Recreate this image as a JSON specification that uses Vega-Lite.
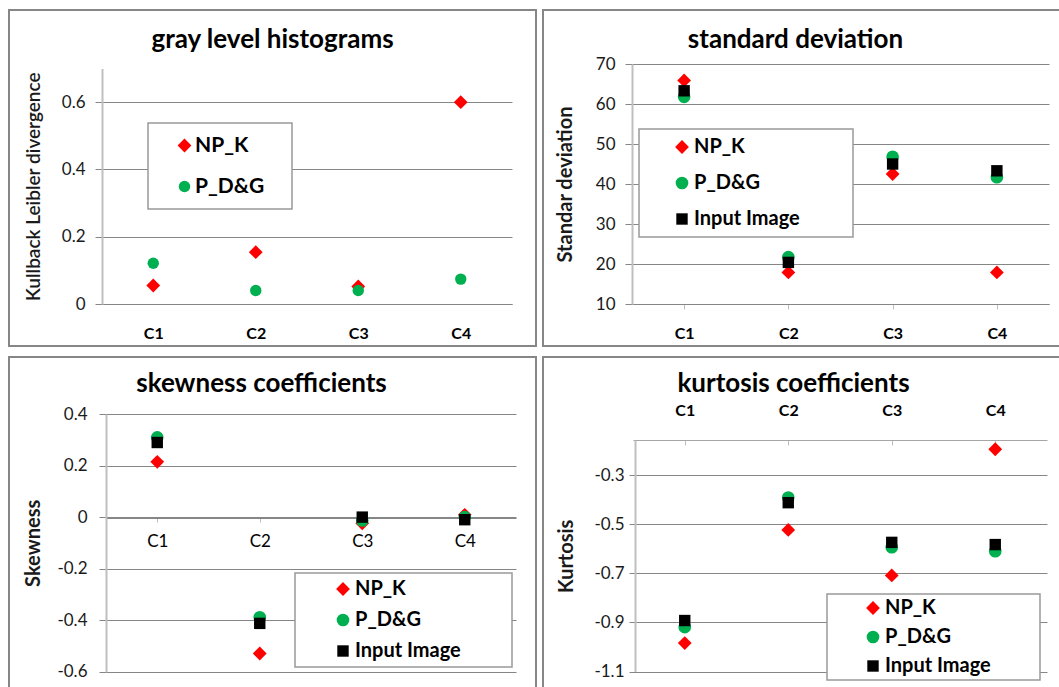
{
  "$schema": "https://vega.github.io/schema/vega-lite/v6.json",
  "padding": {"left": 8, "top": 9, "right": 0, "bottom": 0},
  "spacing": 9,
  "resolve": {"scale": {"color": "independent", "shape": "independent", "size": "independent"}, "legend": {"color": "independent", "shape": "independent", "size": "independent"}},
  "config": {
    "font": "Lato",
    "view": {"stroke": "#868686", "strokeWidth": 2},
    "axis": {"labelFont": "Lato", "labelColor": "#1a1a1a", "labelFontSize": 17, "titleFont": "Lato", "titleColor": "#1a1a1a", "titleFontSize": 20, "titleFontWeight": "bold", "gridColor": "#868686", "gridWidth": 1, "tickColor": "#868686", "zindex": 0},
    "title": {"font": "Lato", "fontSize": 26, "fontWeight": "bold", "color": "#000000", "anchor": "middle", "frame": "group", "baseline": "alphabetic"},
    "legend": {"labelFont": "Lato", "labelFontWeight": "bold", "labelFontSize": 20, "labelColor": "#000000", "labelLimit": 400, "strokeColor": "#999999", "fillColor": "#ffffff", "strokeWidth": 1.5, "cornerRadius": 0, "orient": "none", "title": null, "symbolStrokeWidth": 0, "symbolOpacity": 1}
  },
  "vconcat": [
    {
      "spacing": 5,
      "resolve": {"scale": {"color": "independent", "shape": "independent", "size": "independent"}, "legend": {"color": "independent", "shape": "independent", "size": "independent"}},
      "hconcat": [
        {
          "width": 527, "height": 336,
          "title": {"text": "gray level histograms", "offset": -43},
          "data": {"values": [
            {"cat": "C1", "series": "NP_K", "value": 0.055},
            {"cat": "C2", "series": "NP_K", "value": 0.154},
            {"cat": "C3", "series": "NP_K", "value": 0.052},
            {"cat": "C4", "series": "NP_K", "value": 0.6},
            {"cat": "C1", "series": "P_D&G", "value": 0.121},
            {"cat": "C2", "series": "P_D&G", "value": 0.04},
            {"cat": "C3", "series": "P_D&G", "value": 0.04},
            {"cat": "C4", "series": "P_D&G", "value": 0.074}
          ]},
          "mark": {"type": "point", "filled": true, "opacity": 1, "strokeWidth": 0},
          "encoding": {
            "x": {"field": "cat", "type": "nominal", "sort": null, "scale": {"range": [93, 503]},
                  "axis": {"title": null, "orient": "bottom", "offset": -42, "grid": false, "labelAngle": 0, "labelFontWeight": "bold", "labelFontSize": 16, "labelColor": "#000000", "domainColor": "#868686", "domainWidth": 1, "tickSize": 0, "labelPadding": 21}},
            "y": {"field": "value", "type": "quantitative", "scale": {"domain": [0, 0.7], "range": [294, 58.5], "nice": false, "zero": false},
                  "axis": {"title": "Kullback Leibler divergence", "titleFontWeight": 600, "titleFontSize": 19, "offset": -93, "values": [0, 0.2, 0.4, 0.6], "labelExpr": "'' + datum.value", "tickSize": 7, "labelPadding": 10, "domainColor": "#bfbfbf", "domainWidth": 2, "titlePadding": 18}},
            "color": {"field": "series", "type": "nominal", "scale": {"domain": ["NP_K", "P_D&G"], "range": ["#ff0000", "#00b050"]},
                      "legend": {"legendX": 139, "legendY": 113, "padding": 12, "symbolOffset": 14, "labelOffset": 0, "rowPadding": 19, "labelFontSize": 21, "labelExpr": "datum.label + '\u2800'"}},
            "shape": {"field": "series", "type": "nominal", "scale": {"domain": ["NP_K", "P_D&G"], "range": ["diamond", "circle"]},
                      "legend": {"legendX": 139, "legendY": 113, "padding": 12, "symbolOffset": 14, "labelOffset": 0, "rowPadding": 19, "labelFontSize": 21, "labelExpr": "datum.label + '\u2800'"}},
            "size": {"field": "series", "type": "nominal", "scale": {"domain": ["NP_K", "P_D&G"], "range": [190, 130]},
                      "legend": {"legendX": 139, "legendY": 113, "padding": 12, "symbolOffset": 14, "labelOffset": 0, "rowPadding": 19, "labelFontSize": 21, "labelExpr": "datum.label + '\u2800'"}}
          }
        },
        {
          "width": 527, "height": 336,
          "title": {"text": "standard deviation", "offset": -43, "dx": -11},
          "data": {"values": [
            {"cat": "C1", "series": "NP_K", "value": 65.9},
            {"cat": "C2", "series": "NP_K", "value": 17.9},
            {"cat": "C3", "series": "NP_K", "value": 42.5},
            {"cat": "C4", "series": "NP_K", "value": 17.9},
            {"cat": "C1", "series": "P_D&G", "value": 61.8},
            {"cat": "C2", "series": "P_D&G", "value": 21.7},
            {"cat": "C3", "series": "P_D&G", "value": 46.8},
            {"cat": "C4", "series": "P_D&G", "value": 41.7},
            {"cat": "C1", "series": "Input Image", "value": 63.3},
            {"cat": "C2", "series": "Input Image", "value": 20.4},
            {"cat": "C3", "series": "Input Image", "value": 45.0},
            {"cat": "C4", "series": "Input Image", "value": 43.3}
          ]},
          "mark": {"type": "point", "filled": true, "opacity": 1, "strokeWidth": 0},
          "encoding": {
            "x": {"field": "cat", "type": "nominal", "sort": null, "scale": {"range": [89, 506]},
                  "axis": {"title": null, "orient": "bottom", "offset": -42, "grid": false, "labelAngle": 0, "labelFontWeight": "bold", "labelFontSize": 16, "labelColor": "#000000", "domainColor": "#868686", "domainWidth": 1, "tickSize": 5, "tickColor": "#bfbfbf", "labelPadding": 16}},
            "y": {"field": "value", "type": "quantitative", "scale": {"domain": [10, 70], "range": [294, 54], "nice": false, "zero": false},
                  "axis": {"title": "Standar deviation", "offset": -89, "values": [10, 20, 30, 40, 50, 60, 70], "labelExpr": "'' + datum.value", "tickSize": 7, "labelPadding": 10, "domainColor": "#bfbfbf", "domainWidth": 2, "titlePadding": 20}},
            "color": {"field": "series", "type": "nominal", "scale": {"domain": ["NP_K", "P_D&G", "Input Image"], "range": ["#ff0000", "#00b050", "#000000"]},
                      "legend": {"legendX": 96, "legendY": 119, "padding": 8, "symbolOffset": 25, "labelOffset": 2, "rowPadding": 16, "labelExpr": "datum.label + '\u2800\u2800\u2800'"}},
            "shape": {"field": "series", "type": "nominal", "scale": {"domain": ["NP_K", "P_D&G", "Input Image"], "range": ["diamond", "circle", "square"]},
                      "legend": {"legendX": 96, "legendY": 119, "padding": 8, "symbolOffset": 25, "labelOffset": 2, "rowPadding": 16, "labelExpr": "datum.label + '\u2800\u2800\u2800'"}},
            "size": {"field": "series", "type": "nominal", "scale": {"domain": ["NP_K", "P_D&G", "Input Image"], "range": [190, 130, 80]},
                      "legend": {"legendX": 96, "legendY": 119, "padding": 8, "symbolOffset": 25, "labelOffset": 2, "rowPadding": 16, "labelExpr": "datum.label + '\u2800\u2800\u2800'"}}
          }
        }
      ]
    },
    {
      "spacing": 5,
      "resolve": {"scale": {"color": "independent", "shape": "independent", "size": "independent"}, "legend": {"color": "independent", "shape": "independent", "size": "independent"}},
      "hconcat": [
        {
          "width": 527, "height": 336,
          "title": {"text": "skewness coefficients", "offset": -40, "dx": -11},
          "data": {"values": [
            {"cat": "C1", "series": "NP_K", "value": 0.215},
            {"cat": "C2", "series": "NP_K", "value": -0.53},
            {"cat": "C3", "series": "NP_K", "value": -0.024},
            {"cat": "C4", "series": "NP_K", "value": 0.009},
            {"cat": "C1", "series": "P_D&G", "value": 0.31},
            {"cat": "C2", "series": "P_D&G", "value": -0.389},
            {"cat": "C3", "series": "P_D&G", "value": -0.013},
            {"cat": "C4", "series": "P_D&G", "value": 0.0},
            {"cat": "C1", "series": "Input Image", "value": 0.29},
            {"cat": "C2", "series": "Input Image", "value": -0.413},
            {"cat": "C3", "series": "Input Image", "value": 0.0},
            {"cat": "C4", "series": "Input Image", "value": -0.01}
          ]},
          "mark": {"type": "point", "filled": true, "opacity": 1, "strokeWidth": 0},
          "encoding": {
            "x": {"field": "cat", "type": "nominal", "sort": null, "scale": {"range": [97, 507]},
                  "axis": {"title": null, "orient": "bottom", "offset": -175, "grid": false, "labelAngle": 0, "labelFontWeight": "normal", "labelFontSize": 17, "labelColor": "#000000", "domainColor": "#868686", "domainWidth": 1, "tickSize": 4, "tickColor": "#bfbfbf", "labelPadding": 11}},
            "y": {"field": "value", "type": "quantitative", "scale": {"domain": [-0.6, 0.4], "range": [314.5, 57.2], "nice": false, "zero": false},
                  "axis": {"title": "Skewness", "offset": -97, "values": [-0.6, -0.4, -0.2, 0, 0.2, 0.4], "labelExpr": "'' + datum.value", "tickSize": 7, "labelPadding": 12, "domainColor": "#bfbfbf", "domainWidth": 2, "titlePadding": 13}},
            "color": {"field": "series", "type": "nominal", "scale": {"domain": ["NP_K", "P_D&G", "Input Image"], "range": ["#ff0000", "#00b050", "#000000"]},
                      "legend": {"legendX": 286, "legendY": 216, "padding": 6, "symbolOffset": 32, "labelOffset": 2, "rowPadding": 11, "labelExpr": "datum.label + '\u2800\u2800\u2800'"}},
            "shape": {"field": "series", "type": "nominal", "scale": {"domain": ["NP_K", "P_D&G", "Input Image"], "range": ["diamond", "circle", "square"]},
                      "legend": {"legendX": 286, "legendY": 216, "padding": 6, "symbolOffset": 32, "labelOffset": 2, "rowPadding": 11, "labelExpr": "datum.label + '\u2800\u2800\u2800'"}},
            "size": {"field": "series", "type": "nominal", "scale": {"domain": ["NP_K", "P_D&G", "Input Image"], "range": [190, 130, 80]},
                      "legend": {"legendX": 286, "legendY": 216, "padding": 6, "symbolOffset": 32, "labelOffset": 2, "rowPadding": 11, "labelExpr": "datum.label + '\u2800\u2800\u2800'"}}
          }
        },
        {
          "width": 527, "height": 336,
          "title": {"text": "kurtosis coefficients", "offset": -40, "dx": -13},
          "data": {"values": [
            {"cat": "C1", "series": "NP_K", "value": -0.984},
            {"cat": "C2", "series": "NP_K", "value": -0.522},
            {"cat": "C3", "series": "NP_K", "value": -0.708},
            {"cat": "C4", "series": "NP_K", "value": -0.193},
            {"cat": "C1", "series": "P_D&G", "value": -0.919},
            {"cat": "C2", "series": "P_D&G", "value": -0.39},
            {"cat": "C3", "series": "P_D&G", "value": -0.593},
            {"cat": "C4", "series": "P_D&G", "value": -0.609},
            {"cat": "C1", "series": "Input Image", "value": -0.892},
            {"cat": "C2", "series": "Input Image", "value": -0.411},
            {"cat": "C3", "series": "Input Image", "value": -0.573},
            {"cat": "C4", "series": "Input Image", "value": -0.582}
          ]},
          "mark": {"type": "point", "filled": true, "opacity": 1, "strokeWidth": 0},
          "encoding": {
            "x": {"field": "cat", "type": "nominal", "sort": null, "scale": {"range": [90, 504]},
                  "axis": {"title": null, "orient": "top", "offset": -83, "grid": false, "labelAngle": 0, "labelFontWeight": "bold", "labelFontSize": 16, "labelColor": "#000000", "domainColor": "#a6a6a6", "domainWidth": 1, "tickSize": -5, "tickColor": "#bfbfbf", "labelPadding": 27}},
            "y": {"field": "value", "type": "quantitative", "scale": {"domain": [-1.1, -0.156], "range": [314.5, 83.2], "nice": false, "zero": false},
                  "axis": {"title": "Kurtosis", "offset": -92, "values": [-1.1, -0.9, -0.7, -0.5, -0.3], "labelExpr": "'' + datum.value", "tickSize": 6, "labelPadding": 5, "domainColor": "#bfbfbf", "domainWidth": 2, "titlePadding": 17}},
            "color": {"field": "series", "type": "nominal", "scale": {"domain": ["NP_K", "P_D&G", "Input Image"], "range": ["#ff0000", "#00b050", "#000000"]},
                      "legend": {"legendX": 284, "legendY": 237, "padding": 4, "symbolOffset": 32, "labelOffset": 2, "rowPadding": 9, "labelExpr": "datum.label + '\u2800\u2800\u2800'"}},
            "shape": {"field": "series", "type": "nominal", "scale": {"domain": ["NP_K", "P_D&G", "Input Image"], "range": ["diamond", "circle", "square"]},
                      "legend": {"legendX": 284, "legendY": 237, "padding": 4, "symbolOffset": 32, "labelOffset": 2, "rowPadding": 9, "labelExpr": "datum.label + '\u2800\u2800\u2800'"}},
            "size": {"field": "series", "type": "nominal", "scale": {"domain": ["NP_K", "P_D&G", "Input Image"], "range": [190, 130, 80]},
                      "legend": {"legendX": 284, "legendY": 237, "padding": 4, "symbolOffset": 32, "labelOffset": 2, "rowPadding": 9, "labelExpr": "datum.label + '\u2800\u2800\u2800'"}}
          }
        }
      ]
    }
  ]
}
